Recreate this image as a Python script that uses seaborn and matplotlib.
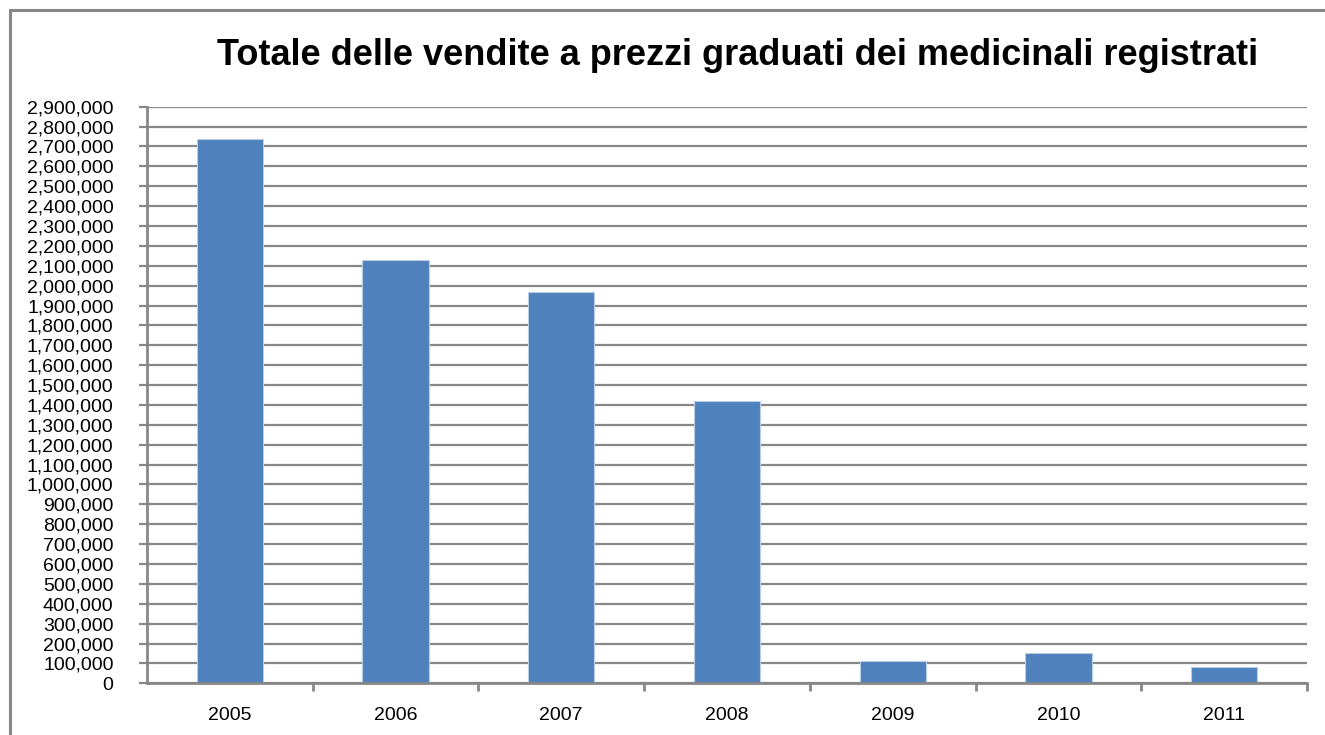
import matplotlib
matplotlib.use("Agg")
import matplotlib.pyplot as plt
import matplotlib.patches as mpatches
from matplotlib.ticker import FuncFormatter, MultipleLocator, FixedLocator
import seaborn as sns
import pandas as pd

# data
years = ["2005", "2006", "2007", "2008", "2009", "2010", "2011"]
sales = [2740000, 2127000, 1967000, 1421000, 110000, 155000, 80000]
title = "Totale delle vendite a prezzi graduati dei medicinali registrati"

BAR_COLOR = "#4F81BD"
GRID_COLOR = "#878787"

sns.set_theme(style="white")
plt.rcParams["font.family"] = ["Liberation Sans", "DejaVu Sans"]

df = pd.DataFrame({"year": years, "sales": sales})

fig = plt.figure(figsize=(13.25, 7.35), dpi=100)
ax = fig.add_axes([0.1109, 0.0703, 0.8755, 0.7845])

sns.barplot(data=df, x="year", y="sales", order=years, color=BAR_COLOR,
            width=0.4, saturation=1, edgecolor="#B9CDE5", linewidth=0.8, ax=ax)

ax.set_xlim(-0.5, len(years) - 0.5)
ax.set_ylim(0, 2900000)
ax.yaxis.set_major_locator(MultipleLocator(100000))
ax.yaxis.set_major_formatter(FuncFormatter(lambda v, p: f"{int(v):,}"))
ax.set_xlabel("")
ax.set_ylabel("")

# gridlines
ax.set_axisbelow(True)
ax.grid(axis="y", color=GRID_COLOR, linewidth=1.6)
ax.grid(axis="x", visible=False)

for side in ["top", "right"]:
    ax.spines[side].set_visible(False)
for side in ["left", "bottom"]:
    ax.spines[side].set_color(GRID_COLOR)
    ax.spines[side].set_linewidth(2)

ax.tick_params(axis="y", which="major", direction="out", length=6, width=1.6,
               color=GRID_COLOR, labelsize=14, pad=18, left=True)
ax.tick_params(axis="x", which="major", length=0, labelsize=14, pad=17)
# tick marks on category boundaries
ax.xaxis.set_minor_locator(FixedLocator([i + 0.5 for i in range(len(years))]))
ax.tick_params(axis="x", which="minor", direction="out", length=6, width=2,
               color=GRID_COLOR, bottom=True)
for lbl in ax.get_xticklabels() + ax.get_yticklabels():
    lbl.set_color("black")

fig.text(0.557, 0.925, title, ha="center", va="center", fontsize=26,
         fontweight="bold", color="black")

# outer chart border (right and bottom edges fall outside the image)
border = mpatches.Rectangle((10 / 1325, -0.05), 1.05, 1.05 - 10 / 735,
                            transform=fig.transFigure, fill=False,
                            edgecolor=GRID_COLOR, linewidth=2.2)
fig.patches.append(border)

fig.savefig("out.png", dpi=100)
